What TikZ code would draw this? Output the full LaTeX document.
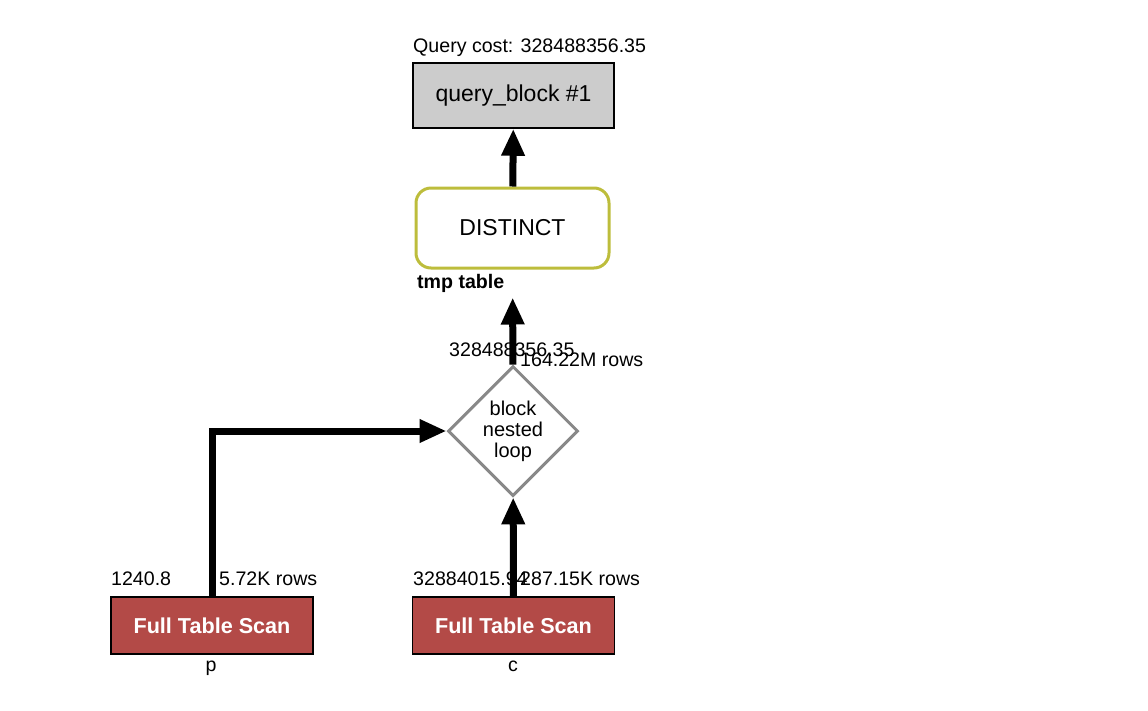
\documentclass[tikz,border=0pt]{standalone}
\usepackage{fontspec}
\setmainfont{Liberation Sans}
\usetikzlibrary{shapes.geometric,arrows.meta}

\definecolor{blockgray}{HTML}{CCCCCC}
\definecolor{distinctrim}{HTML}{BDBD3C}
\definecolor{loopgray}{HTML}{888888}
\definecolor{scanred}{HTML}{B34A47}

\tikzset{
  flow/.style={line width=7pt,-{Triangle[width=22pt,length=27pt]}},
  lbl/.style={font=\fontsize{19.6}{22}\selectfont,inner sep=0pt},
  qblock/.style={draw,line width=1.5pt,fill=blockgray,minimum width=201pt,
    minimum height=65pt,font=\fontsize{23}{27}\selectfont},
  distinct/.style={draw=distinctrim,line width=3pt,rounded corners=15pt,
    minimum width=193pt,minimum height=80pt,font=\fontsize{23}{27}\selectfont},
  nestloop/.style={diamond,draw=loopgray,line width=3pt,minimum size=130pt,
    inner sep=0pt,align=center,font=\fontsize{20}{21}\selectfont},
  scan/.style={draw,line width=1.5pt,fill=scanred,text=white,minimum width=202pt,
    minimum height=57pt,font=\bfseries\fontsize{21.6}{25}\selectfont}
}

\begin{document}
\begin{tikzpicture}[x=1pt,y=-1pt]
\useasboundingbox (0,0) rectangle (1148,710);

% operations
\node[qblock] (qb) at (513.5,95.5) {query\_block \#1};
\node[distinct] (dist) at (512.5,228) {DISTINCT};
\node[nestloop] (nl) at (513,431) {block\\nested\\loop};
\node[scan] (p) at (212,625.5) {Full Table Scan};
\node[scan] (c) at (513.5,625.5) {Full Table Scan};

% flows
\draw[flow] (dist) -- (qb);
\draw[flow,shorten >=28pt] (nl) -- (dist);
\draw[flow] (p.north) |- (nl.west);
\draw[flow] (c) -- (nl);

% labels
\node[lbl,anchor=base west] (cost) at (413,52) {Query cost: 328488356.35};
\node[lbl,font=\bfseries\fontsize{19.6}{22}\selectfont,anchor=base west] (tmp) at (417,288) {tmp table};
\node[lbl,anchor=base west] (nlcost) at (449,356) {328488356.35};
\node[lbl,anchor=base west] (nlrows) at (520,366) {164.22M rows};
\node[lbl,anchor=base west] (pcost) at (111,585) {1240.8};
\node[lbl,anchor=base west] (prows) at (219,585) {5.72K rows};
\node[lbl,anchor=base west] (ccost) at (413,585) {32884015.94};
\node[lbl,anchor=base west] (crows) at (520,585) {287.15K rows};
\node[lbl,anchor=base] (pname) at (211,671) {p};
\node[lbl,anchor=base] (cname) at (513,671) {c};
\end{tikzpicture}
\end{document}
